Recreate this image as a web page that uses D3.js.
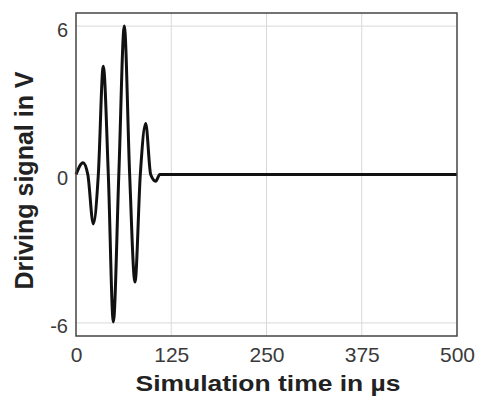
<!DOCTYPE html>
<html>
<head>
<meta charset="utf-8">
<script src="https://cdn.jsdelivr.net/npm/d3@7"></script>
<style>
  html, body { margin: 0; padding: 0; background: #ffffff; }
  svg { display: block; }
  text { font-family: "Liberation Sans", Arial, Helvetica, sans-serif; }
</style>
</head>
<body>
<svg id="chart" width="480" height="397"></svg>
<script>
// Driving signal: windowed tone burst (extrema and zero crossings), then zero
const timeUs = [0, 9.2, 15.5, 22.7, 29.3, 35.8, 42.4, 49.0, 56.2, 63.4, 70.4, 77.4, 84.4, 91.5, 98.0, 104.6, 110.0, 500];
const voltage = [0, 0.48, 0, -2.0, 0, 4.38, 0, -5.96, 0, 6.0, 0, -4.35, 0, 2.06, 0, -0.27, 0, 0];

const xTicks = [0, 125, 250, 375, 500];
const yTicks = [-6, 0, 6];
const xTitle = "Simulation time in µs";
const yTitle = "Driving signal in V";

const svg = d3.select("#chart");
const plotLeft = 76, plotRight = 457, plotTop = 13, plotBottom = 336;

const x = d3.scaleLinear().domain([0, 500]).range([plotLeft, plotRight]);
const y = d3.scaleLinear().domain([-6.53, 6.53]).range([plotBottom, plotTop]);

// grid lines
const grid = svg.append("g").attr("stroke", "#d9d9d9").attr("stroke-width", 1);
grid.selectAll("line.v").data(xTicks.slice(1, -1)).join("line")
  .attr("class", "v")
  .attr("x1", d => x(d)).attr("x2", d => x(d))
  .attr("y1", plotTop).attr("y2", plotBottom);
grid.selectAll("line.h").data(yTicks).join("line")
  .attr("class", "h")
  .attr("x1", plotLeft).attr("x2", plotRight)
  .attr("y1", d => y(d)).attr("y2", d => y(d));

// signal trace
const points = timeUs.map((t, i) => [t, voltage[i]]);
const line = d3.line()
  .x(d => x(d[0]))
  .y(d => y(d[1]))
  .curve(d3.curveMonotoneX);
svg.append("path")
  .datum(points)
  .attr("fill", "none")
  .attr("stroke", "#111")
  .attr("stroke-width", 3)
  .attr("stroke-linejoin", "round")
  .attr("d", line);

// frame
svg.append("rect")
  .attr("x", plotLeft).attr("y", plotTop)
  .attr("width", plotRight - plotLeft).attr("height", plotBottom - plotTop)
  .attr("fill", "none")
  .attr("stroke", "#444")
  .attr("stroke-width", 1.5);

// axes (plain hyphen for negative labels)
const plainFormat = d => String(d);

const xAxis = svg.append("g")
  .attr("transform", `translate(0,${plotBottom})`)
  .call(d3.axisBottom(x).tickValues(xTicks).tickSize(0).tickPadding(11).tickFormat(plainFormat));
xAxis.select(".domain").remove();
xAxis.selectAll("text")
  .attr("font-size", 21)
  .attr("fill", "#3a3a3a")
  .attr("font-family", "Liberation Sans, Arial, sans-serif");

const yAxis = svg.append("g")
  .attr("transform", `translate(${plotLeft},0)`)
  .call(d3.axisLeft(y).tickValues(yTicks).tickSize(0).tickPadding(8).tickFormat(plainFormat));
yAxis.select(".domain").remove();
yAxis.selectAll("text")
  .attr("font-size", 20)
  .attr("dy", "0.5em")
  .attr("fill", "#3a3a3a")
  .attr("font-family", "Liberation Sans, Arial, sans-serif");

// axis titles
svg.append("text")
  .attr("x", 268).attr("y", 391)
  .attr("text-anchor", "middle")
  .attr("font-size", 22)
  .attr("font-weight", "bold")
  .attr("fill", "#222")
  .attr("textLength", 265)
  .attr("lengthAdjust", "spacingAndGlyphs")
  .text(xTitle);

svg.append("text")
  .attr("transform", "translate(33,180.5) rotate(-90)")
  .attr("text-anchor", "middle")
  .attr("font-size", 25)
  .attr("font-weight", "bold")
  .attr("fill", "#222")
  .text(yTitle);
</script>
</body>
</html>
